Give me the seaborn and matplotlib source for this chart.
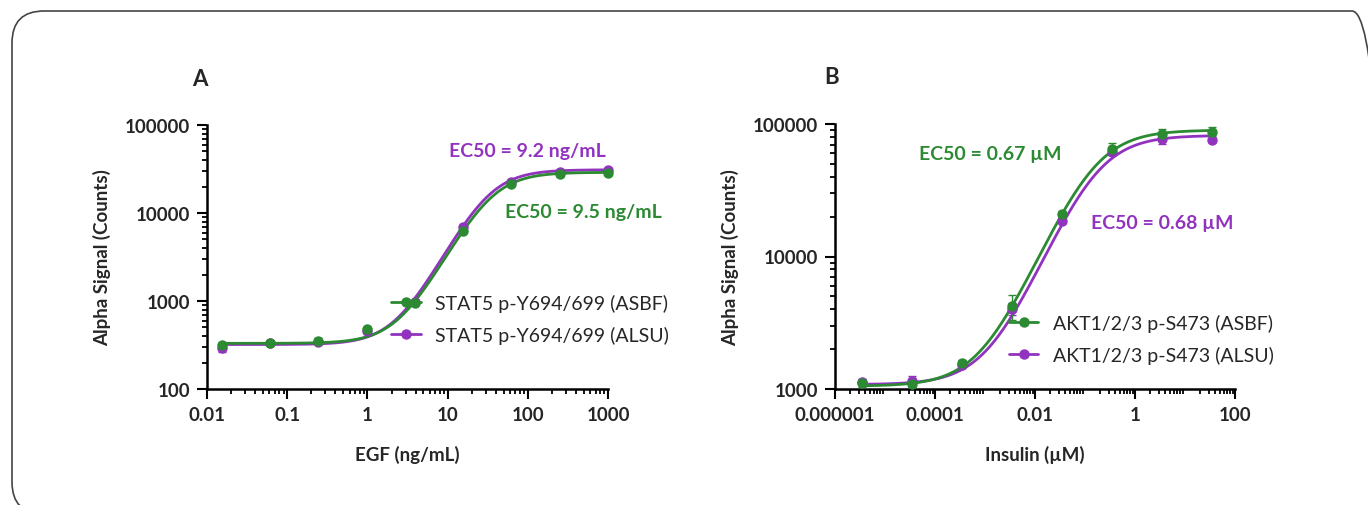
import numpy as np
import pandas as pd
import matplotlib
matplotlib.use("Agg")
import matplotlib.pyplot as plt
import seaborn as sns
from matplotlib.lines import Line2D
from matplotlib.patches import FancyBboxPatch
from matplotlib.transforms import IdentityTransform
from matplotlib.ticker import LogLocator, NullFormatter

# ---- Panel A: EGF -> STAT5 p-Y694/699
egf_conc = [0.0153, 0.061, 0.244, 0.977, 3.91, 15.6, 62.5, 250, 1000]
stat5_asbf = [315, 335, 355, 475, 950, 6200, 21500, 27500, 28500]
stat5_asbf_sd = [15, 12, 20, 15, 60, 300, 800, 900, 800]
stat5_alsu = [290, 330, 345, 460, 980, 6900, 22500, 29500, 31000]
stat5_alsu_sd = [25, 10, 15, 15, 50, 300, 700, 800, 700]
# fitted curve shape (bottom, top, midpoint, hill) as drawn
stat5_asbf_fit = (330, 29000, 34, 1.73)
stat5_alsu_fit = (320, 31000, 32, 1.75)

# ---- Panel B: Insulin -> AKT1/2/3 p-S473
insulin_conc = [3.44e-6, 3.44e-5, 3.44e-4, 3.44e-3, 0.0344, 0.344, 3.44, 34.4]
akt_asbf = [1110, 1090, 1560, 4220, 20900, 64900, 84100, 87600]
akt_asbf_sd = [80, 50, 90, 900, 1300, 6500, 7000, 7000]
akt_alsu = [1120, 1150, 1530, 4030, 18600, 61000, 77200, 76000]
akt_alsu_sd = [50, 110, 60, 400, 800, 3000, 6500, 2500]
akt_asbf_fit = (1050, 90000, 0.141, 0.89)
akt_alsu_fit = (1080, 82000, 0.16, 0.90)

GREEN = "#2b8a32"
PURPLE = "#9233c0"


def four_pl(x, params):
    bottom, top, mid, hill = params
    return bottom + (top - bottom) / (1 + (mid / x) ** hill)


def draw_panel(ax, conc, series, xlim, ylim, xticks, xticklabels, yticks):
    for label, vals, sd, fit, color in series:
        xs = np.logspace(np.log10(conc[0]), np.log10(conc[-1]), 300)
        curve = pd.DataFrame({"x": xs, "y": four_pl(xs, fit)})
        sns.lineplot(data=curve, x="x", y="y", ax=ax, color=color, linewidth=2.0,
                     legend=False, zorder=3)
        ax.errorbar(conc, vals, yerr=sd, fmt="o", color=color, markersize=6.5,
                    elinewidth=1.0, capsize=3, capthick=1.0, zorder=4, clip_on=False)
    ax.set_xscale("log")
    ax.set_yscale("log")
    ax.set_xlim(*xlim)
    ax.set_ylim(*ylim)
    ax.set_xticks(xticks)
    ax.set_xticklabels(xticklabels)
    ax.xaxis.set_minor_locator(LogLocator(base=10, subs=np.arange(2, 10), numticks=50))
    ax.xaxis.set_minor_formatter(NullFormatter())
    ax.set_yticks(yticks)
    ax.set_yticklabels([str(v) for v in yticks])
    ax.yaxis.set_minor_locator(LogLocator(base=10, subs=np.arange(2, 10), numticks=50))
    ax.yaxis.set_minor_formatter(NullFormatter())
    sns.despine(ax=ax)
    for s in ("left", "bottom"):
        ax.spines[s].set_linewidth(1.8)
        ax.spines[s].set_color("black")
    ax.tick_params(which="major", length=7, width=1.5, color="black",
                   labelsize=13.5, pad=5)
    ax.tick_params(which="minor", length=3.8, width=1.3, color="black")
    for t in ax.get_xticklabels() + ax.get_yticklabels():
        t.set_fontweight("bold")
    ax.set_ylabel("Alpha Signal (Counts)", fontsize=13.5, fontweight="bold", labelpad=10)
    ax.grid(False)


sns.set_theme(style="ticks")
plt.rcParams["font.family"] = ["Lato", "DejaVu Sans"]

fig = plt.figure(figsize=(13.68, 5.06), dpi=100)
axA = fig.add_axes([207 / 1368, 116 / 506, 401 / 1368, 264 / 506])
axB = fig.add_axes([835 / 1368, 116 / 506, 400 / 1368, 265 / 506])

draw_panel(axA, egf_conc,
           [("STAT5 p-Y694/699 (ALSU)", stat5_alsu, stat5_alsu_sd, stat5_alsu_fit, PURPLE),
            ("STAT5 p-Y694/699 (ASBF)", stat5_asbf, stat5_asbf_sd, stat5_asbf_fit, GREEN)],
           (0.01, 1000), (100, 100000),
           [0.01, 0.1, 1, 10, 100, 1000], ["0.01", "0.1", "1", "10", "100", "1000"],
           [100, 1000, 10000, 100000])
axA.set_xlabel("EGF (ng/mL)", fontsize=13.5, fontweight="bold", labelpad=16)

draw_panel(axB, insulin_conc,
           [("AKT1/2/3 p-S473 (ALSU)", akt_alsu, akt_alsu_sd, akt_alsu_fit, PURPLE),
            ("AKT1/2/3 p-S473 (ASBF)", akt_asbf, akt_asbf_sd, akt_asbf_fit, GREEN)],
           (1e-6, 100), (1000, 100000),
           [1e-6, 1e-4, 1e-2, 1, 100], ["0.000001", "0.0001", "0.01", "1", "100"],
           [1000, 10000, 100000])
axB.set_xlabel("Insulin (\u00b5M)", fontsize=13.5, fontweight="bold", labelpad=16)

# EC50 annotations
axA.text(100, 50700, "EC50 = 9.2 ng/mL", color=PURPLE, fontsize=14, fontweight="bold",
         ha="center", va="center", clip_on=False)
axA.text(500, 10500, "EC50 = 9.5 ng/mL", color=GREEN, fontsize=14, fontweight="bold",
         ha="center", va="center", clip_on=False)
axB.text(0.00126, 60300, "EC50 = 0.67 \u00b5M", color=GREEN, fontsize=14, fontweight="bold",
         ha="center", va="center", clip_on=False)
axB.text(3.47, 18100, "EC50 = 0.68 \u00b5M", color=PURPLE, fontsize=14, fontweight="bold",
         ha="center", va="center", clip_on=False)

# legends
def make_legend(ax, labels, anchor):
    handles = [Line2D([], [], color=GREEN, marker="o", markersize=6.5, linewidth=2.0),
               Line2D([], [], color=PURPLE, marker="o", markersize=6.5, linewidth=2.0)]
    ax.legend(handles, labels, loc="center left", bbox_to_anchor=anchor, frameon=False,
              fontsize=14, handlelength=1.5, handletextpad=0.75, labelspacing=0.7,
              borderpad=0, borderaxespad=0)

make_legend(axA, ["STAT5 p-Y694/699 (ASBF)", "STAT5 p-Y694/699 (ALSU)"], (0.46, 0.265))
make_legend(axB, ["AKT1/2/3 p-S473 (ASBF)", "AKT1/2/3 p-S473 (ALSU)"], (0.435, 0.19))

fig.text(200 / 1368, 1 - 80 / 506, "A", fontsize=16, fontweight="bold", ha="center", va="center")
fig.text(832 / 1368, 1 - 78 / 506, "B", fontsize=16, fontweight="bold", ha="center", va="center")

# rounded outer frame (right and bottom edges run off the image)
frame = FancyBboxPatch((12, -9), 1372, 503, boxstyle="round,pad=0,rounding_size=32",
                       transform=IdentityTransform(), fill=False, edgecolor="#444444",
                       linewidth=1.2)
fig.patches.append(frame)

fig.savefig("out.png", dpi=100)
